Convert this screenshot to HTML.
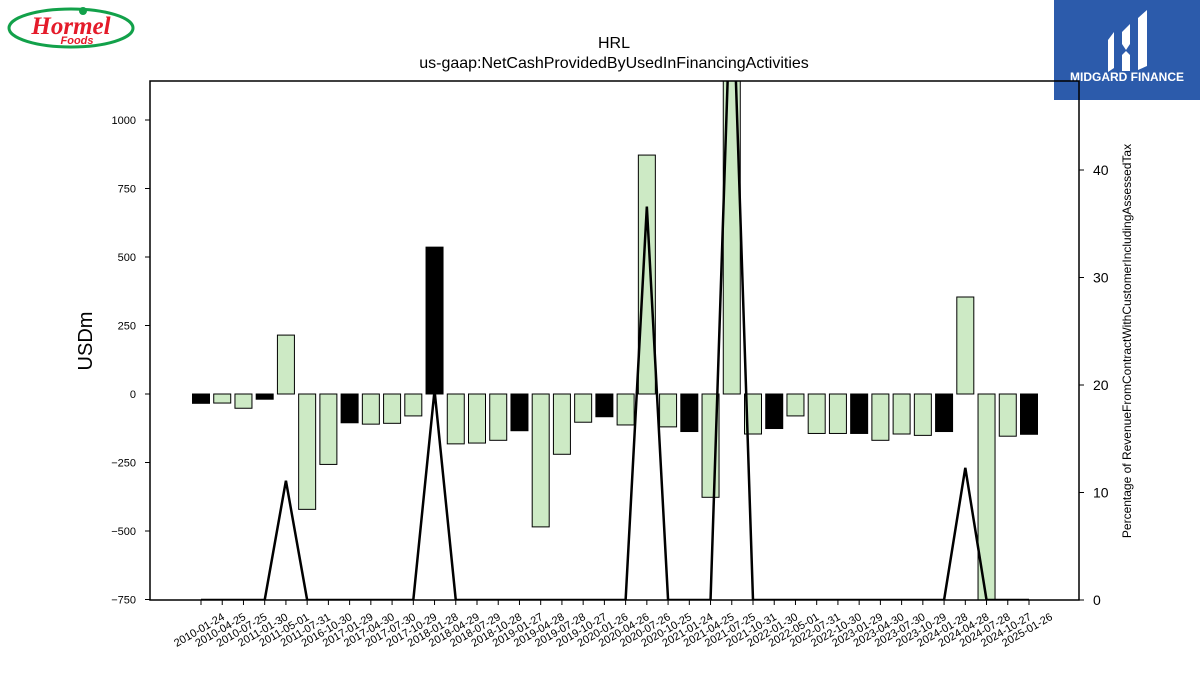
<!DOCTYPE html>
<html><head><meta charset="utf-8"><style>
body{margin:0;background:#fff;width:1200px;height:675px;overflow:hidden;font-family:"Liberation Sans","DejaVu Sans",sans-serif}
svg{display:block}
</style></head><body>
<svg id="chart" width="1200" height="675" xmlns="http://www.w3.org/2000/svg">
<g>
<ellipse cx="71" cy="28" rx="62" ry="19" fill="#fff" stroke="#12a14a" stroke-width="3"/>
<text x="71" y="34" text-anchor="middle" font-family="Liberation Serif,serif" font-style="italic" font-weight="bold" font-size="25" fill="#e41b2a">Hormel</text>
<text x="77" y="44" text-anchor="middle" font-style="italic" font-weight="bold" font-size="11" fill="#e41b2a">Foods</text>
<circle cx="83" cy="11" r="4" fill="#12a14a"/>
</g>
<g>
<rect x="1054" y="0" width="146" height="100" fill="#2c5bab"/>
<path d="M1108 40 l6 -8 v36 l-6 4z M1122 32 l8 -8 v20 l-4 6 -4 -6z M1122 55 l4 -4 4 4 v16 l-8 0z M1138 18 l9 -8 v56 l-9 4z" fill="#fff"/>
<text x="1127" y="81" text-anchor="middle" font-weight="bold" font-size="12" fill="#fff">MIDGARD FINANCE</text>
</g>
<text x="614" y="48" text-anchor="middle" font-size="16">HRL</text>
<text x="614" y="68" text-anchor="middle" font-size="16">us-gaap:NetCashProvidedByUsedInFinancingActivities</text>
<text transform="translate(92,341) rotate(-90)" text-anchor="middle" font-size="20">USDm</text>
<text transform="translate(1131,341) rotate(-90)" text-anchor="middle" font-size="12">Percentage of RevenueFromContractWithCustomerIncludingAssessedTax</text>
<defs><clipPath id="plotclip"><rect x="150" y="81" width="929" height="519"/></clipPath></defs>
<g id="bars" clip-path="url(#plotclip)"></g>
<g id="line" clip-path="url(#plotclip)"></g>
<g id="axes"></g>
</svg>
<script>
const categories=["2010-01-24","2010-04-25","2010-07-25","2011-01-30","2011-05-01","2011-07-31","2016-10-30","2017-01-29","2017-04-30","2017-07-30","2017-10-29","2018-01-28","2018-04-29","2018-07-29","2018-10-28","2019-01-27","2019-04-28","2019-07-28","2019-10-27","2020-01-26","2020-04-26","2020-07-26","2020-10-25","2021-01-24","2021-04-25","2021-07-25","2021-10-31","2022-01-30","2022-05-01","2022-07-31","2022-10-30","2023-01-29","2023-04-30","2023-07-30","2023-10-29","2024-01-28","2024-04-28","2024-07-28","2024-10-27","2025-01-26"];
const cashValues=[-34,-33,-52,-19,215,-421,-257,-105,-110,-107,-80,536,-182,-179,-169,-134,-485,-220,-103,-83,-113,872,-120,-137,-377,1250,-146,-126,-80,-144,-144,-144,-169,-146,-151,-137,354,-800,-154,-147];
const blackBars=[1,0,0,1,0,0,0,1,0,0,0,1,0,0,0,1,0,0,0,1,0,0,0,1,0,0,0,1,0,0,0,1,0,0,0,1,0,0,0,1];
const pctValues=[0,0,0,0,11.1,0,0,0,0,0,0,19.5,0,0,0,0,0,0,0,0,0,36.6,0,0,0,60,0,0,0,0,0,0,0,0,0,0,12.3,0,0,0];
const leftTicks=[-750,-500,-250,0,250,500,750,1000];
const rightTicks=[0,10,20,30,40];
const NS="http://www.w3.org/2000/svg";
const xPos=i=>201+i*(1029-201)/(categories.length-1);
const yL=v=>394-v*0.274;
const yR=v=>600-v*10.75;
function mk(tag,attrs,parent,txt){const e=document.createElementNS(NS,tag);for(const k in attrs)e.setAttribute(k,attrs[k]);if(txt!==undefined)e.textContent=txt;parent.appendChild(e);return e;}
const gb=document.getElementById('bars'),gl=document.getElementById('line'),ga=document.getElementById('axes');
cashValues.forEach((v,i)=>{
 const y0=yL(0),y1=yL(v);
 const r=mk('rect',{x:xPos(i)-8.5,y:Math.min(y0,y1),width:17,height:Math.abs(y1-y0),fill:blackBars[i]?'#000':'#cdeac5',stroke:'#000','stroke-width':1},gb);
 
 
});
const pl=mk('polyline',{points:pctValues.map((v,i)=>xPos(i)+','+yR(v)).join(' '),fill:'none',stroke:'#000','stroke-width':2.5},gl);


const frame=mk('rect',{x:150,y:81,width:929,height:519,fill:'none',stroke:'#000','stroke-width':1.5},ga);


leftTicks.forEach(t=>{
 mk('line',{x1:145,x2:150,y1:yL(t),y2:yL(t),stroke:'#000'},ga);
 const tx=mk('text',{x:136,y:yL(t)+4,'text-anchor':'end','font-size':11},ga,String(t).replace('-','\u2212'));
 
 
});
rightTicks.forEach(t=>{
 mk('line',{x1:1079,x2:1084,y1:yR(t),y2:yR(t),stroke:'#000'},ga);
 const tx=mk('text',{x:1093,y:yR(t)+5,'font-size':14},ga,String(t));
 
 
});
categories.forEach((c,i)=>{
 const x=xPos(i);
 mk('line',{x1:x,x2:x,y1:600,y2:605,stroke:'#000'},ga);
 const tx=mk('text',{transform:`translate(${x},${633}) rotate(-30)`,'text-anchor':'middle','font-size':11},ga,c);
 
 
});
</script>
</body></html>
